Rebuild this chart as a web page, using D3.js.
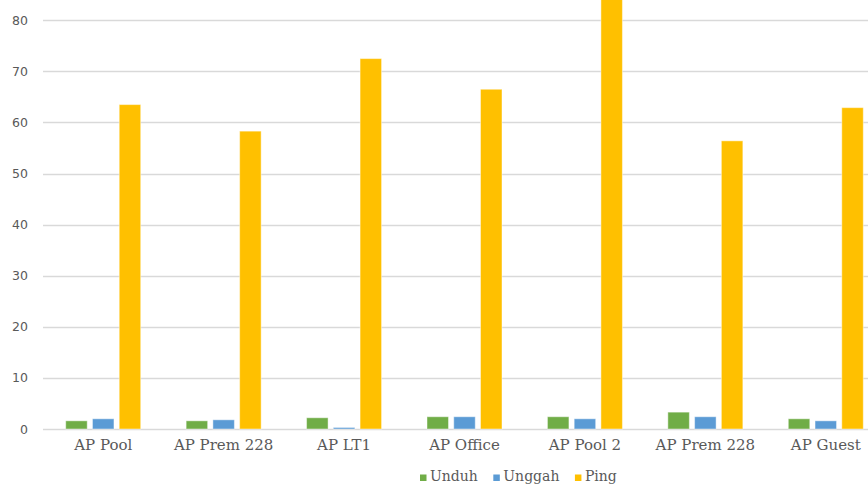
<!DOCTYPE html>
<html>
<head>
<meta charset="utf-8">
<script src="https://cdn.jsdelivr.net/npm/d3@7"></script>
<style>
  html, body { margin: 0; padding: 0; background: #fff; }
  svg { display: block; }
</style>
</head>
<body>
<svg id="chart" width="868" height="484"></svg>
<script>
const categories = ["AP Pool", "AP Prem 228", "AP LT1", "AP Office", "AP Pool 2", "AP Prem 228", "AP Guest"];
const seriesNames = ["Unduh", "Unggah", "Ping"];
const unduh  = [1.6, 1.6, 2.2, 2.4, 2.4, 3.3, 2.0];
const unggah = [2.0, 1.8, 0.3, 2.4, 2.0, 2.4, 1.6];
const ping   = [63.5, 58.3, 72.5, 66.5, 86.0, 56.4, 62.9];
const yTicks = [0, 10, 20, 30, 40, 50, 60, 70, 80];
const colors = ["#70AD47", "#5B9BD5", "#FFC000"];

const seriesValues = [unduh, unggah, ping];
const svg = d3.select("#chart");

const plotLeft = 43, plotRight = 886, zeroY = 429, pxPerUnit = 5.109;
const y = d3.scaleLinear().domain([0, 90]).range([zeroY, zeroY - 90 * pxPerUnit]);
const x = d3.scaleBand().domain(d3.range(categories.length)).range([plotLeft, plotRight]).paddingInner(0).paddingOuter(0);
const groupW = 75;
const xs = d3.scaleBand().domain(seriesNames).range([0, groupW]).paddingInner(0.196).paddingOuter(0);
const groupOffset = (x.bandwidth() - groupW) / 2;

// gridlines
svg.append("g").selectAll("line").data(yTicks).join("line")
  .attr("x1", plotLeft).attr("x2", 868)
  .attr("y1", d => Math.round(y(d)) + 0.5).attr("y2", d => Math.round(y(d)) + 0.5)
  .attr("stroke", "#D9D9D9").attr("stroke-width", 1.3);

// y-axis labels
const yAxis = d3.axisLeft(y).tickValues(yTicks).tickSize(0).tickPadding(0);
const yg = svg.append("g").attr("transform", "translate(28,0)").call(yAxis);
yg.select(".domain").remove();
yg.selectAll("text").attr("fill", "#595959")
  .style("font-family", "'DejaVu Sans', sans-serif").style("font-size", "12.5px");

// bars
const groups = svg.append("g").selectAll("g").data(categories).join("g")
  .attr("transform", (d, i) => `translate(${x(i) + groupOffset},0)`);
groups.selectAll("rect").data((d, i) => seriesNames.map((s, k) => ({ s, k, v: seriesValues[k][i] })))
  .join("rect")
  .attr("x", d => xs(d.s))
  .attr("width", xs.bandwidth())
  .attr("y", d => y(d.v))
  .attr("height", d => y(0) - y(d.v))
  .attr("fill", d => colors[d.k])
  .attr("stroke", "rgba(255,255,255,0.45)").attr("stroke-width", 1);

// x-axis labels
const xAxis = d3.axisBottom(x).tickFormat(i => categories[i]).tickSize(0).tickPadding(0);
const xg = svg.append("g").attr("transform", `translate(0,${zeroY})`).call(xAxis);
xg.select(".domain").remove();
xg.selectAll("text").attr("fill", "#595959").attr("dy", null).attr("y", 21)
  .style("font-family", "'DejaVu Serif', serif").style("font-size", "15px");

// legend
const legend = svg.append("g");
let lx = 420;
seriesNames.forEach((s, k) => {
  legend.append("rect").attr("x", lx).attr("y", 474.5).attr("width", 6.5).attr("height", 6.5).attr("fill", colors[k]);
  const t = legend.append("text").attr("x", lx + 10).attr("y", 481.3).text(s)
    .attr("fill", "#595959")
    .style("font-family", "'DejaVu Serif', serif").style("font-size", "14px");
  lx += 10 + t.node().getComputedTextLength() + 15.5;
});
</script>
</body>
</html>
